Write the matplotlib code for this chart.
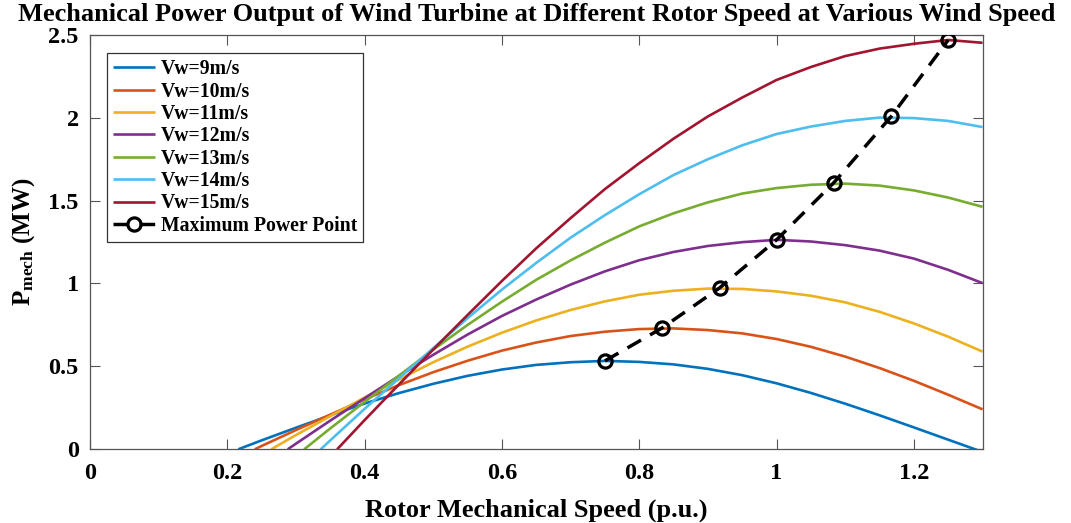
import matplotlib
matplotlib.use("Agg")
import matplotlib.pyplot as plt
from matplotlib.ticker import FuncFormatter

# Turbine mechanical power (MW) versus rotor speed (p.u.) for each wind speed.
# Each series starts at the rotor speed where the output rises above zero.
speed_9 = [0.216, 0.25, 0.30, 0.35, 0.40, 0.45, 0.50, 0.55, 0.60, 0.65, 0.70, 0.75,
           0.80, 0.85, 0.90, 0.95, 1.00, 1.05, 1.10, 1.15, 1.20, 1.25, 1.30]
power_9 = [0.0, 0.054, 0.130, 0.205, 0.276, 0.339, 0.395, 0.443, 0.481, 0.509, 0.525, 0.533,
           0.527, 0.512, 0.485, 0.447, 0.398, 0.340, 0.275, 0.205, 0.132, 0.058, -0.016]

speed_10 = [0.240, 0.25, 0.30, 0.35, 0.40, 0.45, 0.50, 0.55, 0.60, 0.65, 0.70, 0.75,
            0.80, 0.85, 0.90, 0.95, 1.00, 1.05, 1.10, 1.15, 1.20, 1.25, 1.30]
power_10 = [0.0, 0.020, 0.116, 0.209, 0.301, 0.387, 0.465, 0.534, 0.595, 0.644, 0.683, 0.709,
            0.725, 0.729, 0.719, 0.699, 0.665, 0.618, 0.559, 0.490, 0.413, 0.329, 0.241]

speed_11 = [0.264, 0.30, 0.35, 0.40, 0.45, 0.50, 0.55, 0.60, 0.65, 0.70, 0.75,
            0.80, 0.85, 0.90, 0.95, 1.00, 1.05, 1.10, 1.15, 1.20, 1.25, 1.30]
power_11 = [0.0, 0.086, 0.200, 0.312, 0.421, 0.525, 0.619, 0.703, 0.777, 0.840, 0.892,
            0.932, 0.956, 0.969, 0.967, 0.952, 0.926, 0.886, 0.829, 0.759, 0.679, 0.589]

speed_12 = [0.288, 0.30, 0.35, 0.40, 0.45, 0.50, 0.55, 0.60, 0.65, 0.70, 0.75,
            0.80, 0.85, 0.90, 0.95, 1.00, 1.05, 1.10, 1.15, 1.20, 1.25, 1.30]
power_12 = [0.0, 0.034, 0.173, 0.308, 0.442, 0.570, 0.692, 0.804, 0.903, 0.993, 1.073,
            1.140, 1.190, 1.226, 1.249, 1.263, 1.253, 1.231, 1.198, 1.150, 1.082, 1.002]

speed_13 = [0.312, 0.35, 0.40, 0.45, 0.50, 0.55, 0.60, 0.65, 0.70, 0.75,
            0.80, 0.85, 0.90, 0.95, 1.00, 1.05, 1.10, 1.15, 1.20, 1.25, 1.30]
power_13 = [0.0, 0.126, 0.286, 0.444, 0.601, 0.750, 0.890, 1.022, 1.139, 1.246,
            1.344, 1.423, 1.489, 1.542, 1.575, 1.595, 1.602, 1.590, 1.561, 1.518, 1.462]

speed_14 = [0.336, 0.35, 0.40, 0.45, 0.50, 0.55, 0.60, 0.65, 0.70, 0.75,
            0.80, 0.85, 0.90, 0.95, 1.00, 1.05, 1.10, 1.15, 1.20, 1.25, 1.30]
power_14 = [0.0, 0.054, 0.244, 0.428, 0.610, 0.791, 0.963, 1.124, 1.276, 1.412,
            1.538, 1.654, 1.749, 1.833, 1.901, 1.946, 1.980, 2.000, 1.997, 1.980, 1.943]

speed_15 = [0.360, 0.40, 0.45, 0.50, 0.55, 0.60, 0.65, 0.70, 0.75,
            0.80, 0.85, 0.90, 0.95, 1.00, 1.05, 1.10, 1.15, 1.20, 1.25, 1.30]
power_15 = [0.0, 0.176, 0.391, 0.602, 0.810, 1.015, 1.212, 1.394, 1.569,
            1.725, 1.873, 2.007, 2.121, 2.227, 2.305, 2.371, 2.416, 2.445, 2.468, 2.451]

# Maximum power point of each curve
mpp_speed = [0.750, 0.833, 0.917, 1.000, 1.083, 1.167, 1.250]
mpp_power = [0.533, 0.731, 0.973, 1.263, 1.606, 2.007, 2.468]

series_labels = ["Vw=9m/s", "Vw=10m/s", "Vw=11m/s", "Vw=12m/s",
                 "Vw=13m/s", "Vw=14m/s", "Vw=15m/s"]
series_colors = ["#0072BD", "#D95319", "#EDB120", "#7E2F8E",
                 "#77AC30", "#4DBEEE", "#A2142F"]
speeds = [speed_9, speed_10, speed_11, speed_12, speed_13, speed_14, speed_15]
powers = [power_9, power_10, power_11, power_12, power_13, power_14, power_15]

x_ticks = [0, 0.2, 0.4, 0.6, 0.8, 1.0, 1.2]
y_ticks = [0, 0.5, 1.0, 1.5, 2.0, 2.5]

serif = "Liberation Serif"
plt.rcParams["font.family"] = serif
plt.rcParams["font.weight"] = "bold"
plt.rcParams["mathtext.fontset"] = "custom"
plt.rcParams["mathtext.rm"] = serif + ":bold"
plt.rcParams["mathtext.bf"] = serif + ":bold"
plt.rcParams["mathtext.it"] = serif + ":bold"

fig = plt.figure(figsize=(10.71, 5.23), dpi=100)
ax = fig.add_axes([0.0840, 0.1409, 0.9174 - 0.0840, 0.9337 - 0.1409])

for xs, ys, lab, col in zip(speeds, powers, series_labels, series_colors):
    ax.plot(xs, ys, color=col, lw=1.9, label=lab, solid_capstyle="butt",
            solid_joinstyle="round")

ax.plot(mpp_speed, mpp_power, color="black", lw=2.5, linestyle=(0, (4.5, 3.0)),
        marker="o", markersize=9.5, markerfacecolor="none", markeredgewidth=2.3,
        markeredgecolor="black", label="Maximum Power Point", zorder=5)

ax.set_xlim(0, 1.3)
ax.set_ylim(0, 2.5)
ax.set_xticks(x_ticks)
ax.set_yticks(y_ticks)
fmt = FuncFormatter(lambda v, pos: f"{v:g}")
ax.xaxis.set_major_formatter(fmt)
ax.yaxis.set_major_formatter(fmt)
ax.tick_params(direction="in", length=7, width=0.8, color="#555555",
               top=True, right=True, labelsize=17.5)
ax.tick_params(axis="x", pad=10)
ax.tick_params(axis="y", pad=8)
for lbl in ax.get_xticklabels() + ax.get_yticklabels():
    lbl.set_fontweight("bold")
for sp in ax.spines.values():
    sp.set_color("#555555")
    sp.set_linewidth(0.9)

ax.set_title("Mechanical Power Output of Wind Turbine at Different Rotor Speed at Various Wind Speed",
             fontsize=19.0, fontweight="bold", pad=9.5)
ax.set_xlabel("Rotor Mechanical Speed (p.u.)", fontsize=19, fontweight="bold", labelpad=10)
ax.set_ylabel(r"$\mathbf{P_{mech}}$ (MW)", fontsize=18, fontweight="bold", labelpad=8)

leg = ax.legend(loc="upper left", bbox_to_anchor=(0.0194, 0.955), borderaxespad=0,
                prop={"family": serif, "weight": "bold", "size": 14.2},
                handlelength=2.1, handletextpad=0.3, borderpad=0.3,
                labelspacing=0.12, fancybox=False, framealpha=1)
leg.get_frame().set_edgecolor("#333333")
leg.get_frame().set_linewidth(0.9)

fig.savefig("out.png", dpi=100)
